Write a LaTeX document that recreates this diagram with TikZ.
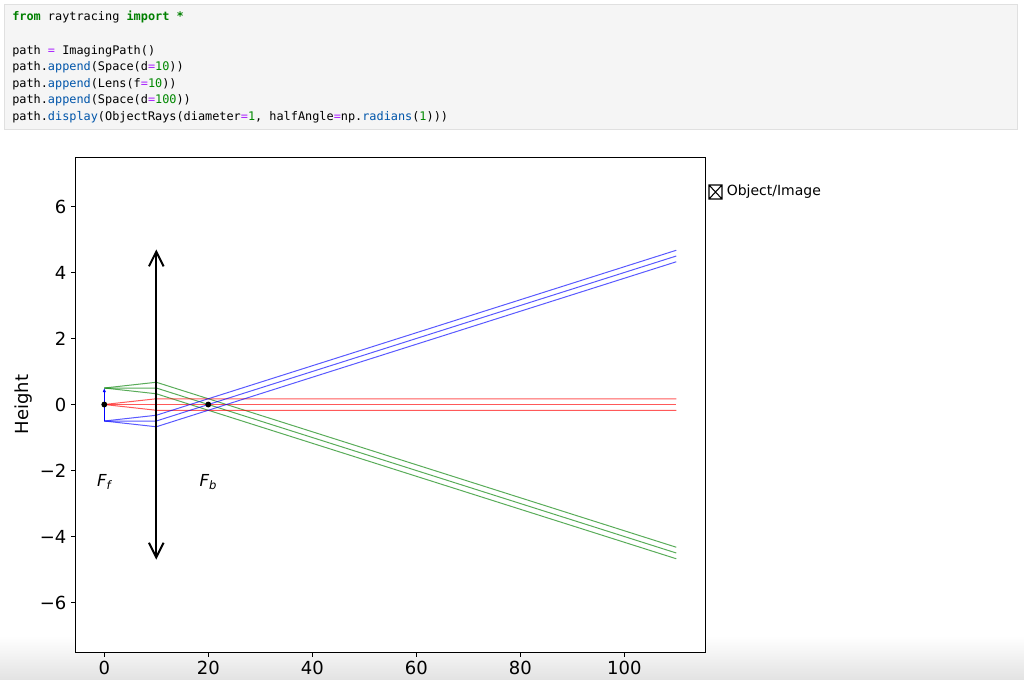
\documentclass[tikz,border=0pt]{standalone}
\usepackage{fontspec}
\setmainfont{DejaVu Sans}
\setmonofont{DejaVu Sans Mono}
\usepackage{tikz}
\usetikzlibrary{arrows.meta}

\definecolor{kwgreen}{HTML}{008000}
\definecolor{numgreen}{HTML}{008800}
\definecolor{oppurple}{HTML}{AA22FF}
\definecolor{attrblue}{HTML}{0055AA}
\definecolor{cellgray}{HTML}{F5F5F5}
\definecolor{cellborder}{HTML}{E0E0E0}

\newcommand{\codekw}[1]{\textcolor{kwgreen}{\textbf{#1}}}
\newcommand{\codeop}[1]{\textcolor{oppurple}{#1}}
\newcommand{\codeattr}[1]{\textcolor{attrblue}{#1}}
\newcommand{\codenum}[1]{\textcolor{numgreen}{#1}}

\tikzset{
  codeline/.style={anchor=base west, inner sep=0pt, font=\ttfamily\fontsize{8.9}{10}\selectfont},
  ticklabel/.style={inner sep=0pt, font=\fontsize{13.5}{16}\selectfont},
  ray/.style={line width=0.75pt, opacity=0.65},
  flabel/.style={inner sep=0pt, font=\itshape\fontsize{12.4}{14}\selectfont},
}

\begin{document}
\begin{tikzpicture}[x=0.75pt,y=-0.75pt]
\useasboundingbox (0,0) rectangle (1024,679);

%Cellule de code
\draw[cellborder, fill=cellgray] (4,4) rectangle (1017,129);
\node[codeline] (l1) at (12,20) {\codekw{from} raytracing \codekw{import} \codekw{*}};
\node[codeline] (l2) at (12,54) {path \codeop{=} ImagingPath()};
\node[codeline] (l3) at (12,70.6) {path.\codeattr{append}(Space(d\codeop{=}\codenum{10}))};
\node[codeline] (l4) at (12,87.2) {path.\codeattr{append}(Lens(f\codeop{=}\codenum{10}))};
\node[codeline] (l5) at (12,103.8) {path.\codeattr{append}(Space(d\codeop{=}\codenum{100}))};
\node[codeline] (l6) at (12,120.4) {path.\codeattr{display}(ObjectRays(diameter\codeop{=}\codenum{1}, halfAngle\codeop{=}np.\codeattr{radians}(\codenum{1})))};

%Fondu en bas
\shade[top color=white, bottom color=black!11] (0,636) rectangle (1024,679);

%Legende
\draw[line width=0.8pt] (709,185) rectangle (722,199) (709,185) -- (722,199) (709,199) -- (722,185);
\node[anchor=west, inner sep=0pt, font=\fontsize{10.5}{12}\selectfont] (legend) at (726.5,192) {Object/Image};

%Titre de l'axe
\node[ticklabel, rotate=90] (height) at (23.7,404.5) {Height};

\coordinate (O) at (104.3,404.5);
\begin{scope}[shift={(O)}, x=3.9pt, y=24.75pt]
  %Cadre
  \draw[fill=white, line width=0.6pt] (-5.5,-7.5) rectangle (115.5,7.5);

  %Graduations
  \foreach \x in {0,20,...,100}
    \draw[line width=0.6pt] (\x,-7.5) -- ++(0,-3.75pt) node[below=2.5pt, ticklabel] {\x};
  \foreach \y/\lab in {-6/−6,-4/−4,-2/−2,0/0,2/2,4/4,6/6}
    \draw[line width=0.6pt] (-5.5,\y) -- ++(-3.75pt,0) node[left=3pt, ticklabel] {\lab};

  %Rayons depuis le haut de l'objet
  \draw[ray, green!50!black] (0,0.5) -- (10,0.6745) -- (110,-4.3255);
  \draw[ray, green!50!black] (0,0.5) -- (10,0.5) -- (110,-4.5);
  \draw[ray, green!50!black] (0,0.5) -- (10,0.3255) -- (110,-4.6745);

  %Rayons depuis le centre
  \draw[ray, red] (0,0) -- (10,0.1745) -- (110,0.1745);
  \draw[ray, red] (0,0) -- (10,0) -- (110,0);
  \draw[ray, red] (0,0) -- (10,-0.1745) -- (110,-0.1745);

  %Rayons depuis le bas de l'objet
  \draw[ray, blue] (0,-0.5) -- (10,-0.6745) -- (110,4.3255);
  \draw[ray, blue] (0,-0.5) -- (10,-0.5) -- (110,4.5);
  \draw[ray, blue] (0,-0.5) -- (10,-0.3255) -- (110,4.6745);

  %Objet
  \draw[blue, line width=1.1pt, -{Latex[length=3pt, width=2.5pt]}] (0,-0.5) -- (0,0.5);

  %Lentille
  \draw[line width=1.5pt, {Straight Barb[length=11pt, width=11pt]}-{Straight Barb[length=11pt, width=11pt]}] (10,-4.7) -- (10,4.7);

  %Foyers
  \fill (0,0) circle (2.2pt);
  \fill (20,0) circle (2.2pt);
  \node[flabel] (Ff) at (0,-2.35) {F\textsubscript{f}};
  \node[flabel] (Fb) at (20,-2.35) {F\textsubscript{b}};
\end{scope}

\end{tikzpicture}
\end{document}
